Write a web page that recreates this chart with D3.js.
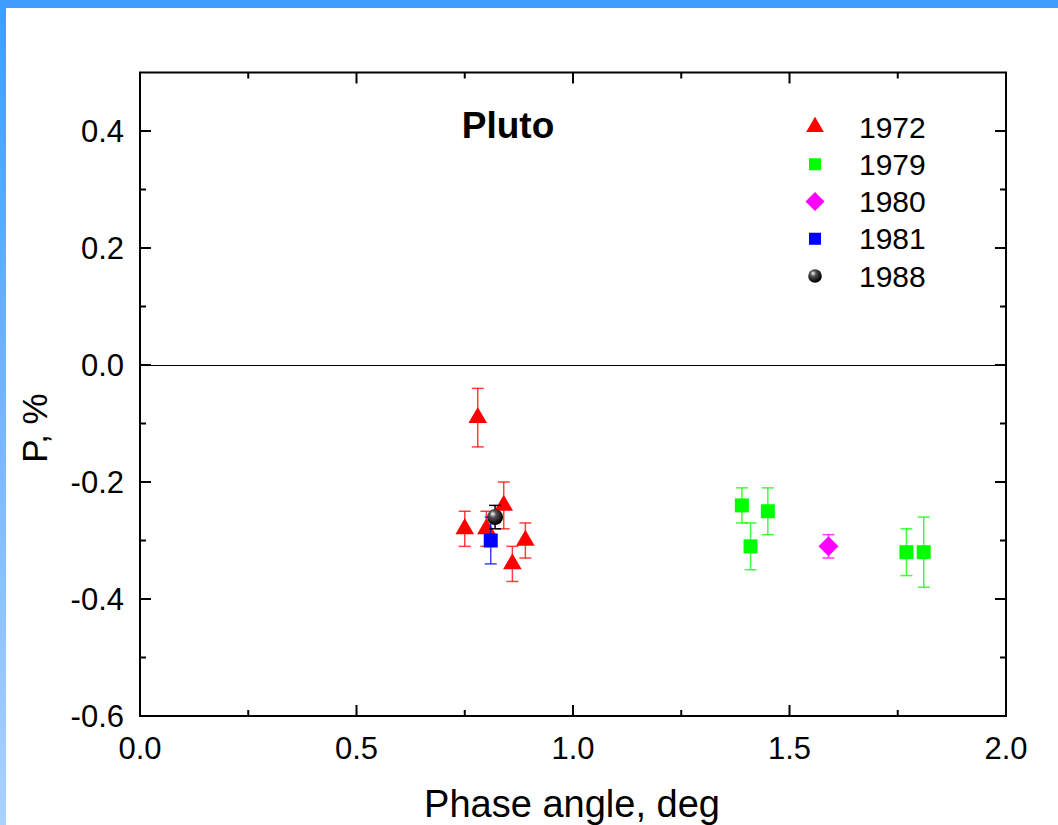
<!DOCTYPE html>
<html>
<head>
<meta charset="utf-8">
<script src="https://cdn.jsdelivr.net/npm/d3@7"></script>
<style>
  html, body { margin: 0; padding: 0; background: #fff; }
  svg { display: block; }
  text { font-family: "Liberation Sans", Arial, sans-serif; fill: #000; }
</style>
</head>
<body>
<svg id="chart" width="1058" height="825"></svg>
<script>
// Pluto polarization vs phase angle, by observation year
const years = ["1972", "1979", "1980", "1981", "1988"];

const x1972 = [0.78, 0.75, 0.80, 0.84, 0.89, 0.86];
const p1972 = [-0.09, -0.28, -0.28, -0.24, -0.30, -0.34];
const e1972 = [0.05, 0.03, 0.03, 0.04, 0.03, 0.03];

const x1979 = [1.39, 1.41, 1.45, 1.77, 1.81];
const p1979 = [-0.24, -0.31, -0.25, -0.32, -0.32];
const e1979 = [0.03, 0.04, 0.04, 0.04, 0.06];

const x1980 = [1.59];
const p1980 = [-0.31];
const e1980 = [0.02];

const x1981 = [0.81];
const p1981 = [-0.30];
const e1981 = [0.04];

const x1988 = [0.82];
const p1988 = [-0.26];
const e1988 = [0.02];

const xTicks = [0.0, 0.5, 1.0, 1.5, 2.0];
const yTicks = [-0.6, -0.4, -0.2, 0.0, 0.2, 0.4];

const series = [
  { name: years[0], xs: x1972, ps: p1972, es: e1972, color: "#ff0000", shape: "triangle" },
  { name: years[1], xs: x1979, ps: p1979, es: e1979, color: "#00ff00", shape: "square" },
  { name: years[2], xs: x1980, ps: p1980, es: e1980, color: "#ff00ff", shape: "diamond" },
  { name: years[3], xs: x1981, ps: p1981, es: e1981, color: "#0000ff", shape: "square" },
  { name: years[4], xs: x1988, ps: p1988, es: e1988, color: "#000000", shape: "sphere" }
];

const svg = d3.select("#chart");

// Frame decoration: blue bar along the top and a graded bar on the left
const defs = svg.append("defs");
const lg = defs.append("linearGradient").attr("id", "sideGrad")
  .attr("x1", 0).attr("y1", 0).attr("x2", 0).attr("y2", 1);
lg.append("stop").attr("offset", "0%").attr("stop-color", "#409cff");
lg.append("stop").attr("offset", "100%").attr("stop-color", "#aad1ff");
const rg = defs.append("radialGradient").attr("id", "sphereGrad")
  .attr("cx", "40%").attr("cy", "35%").attr("r", "60%").attr("fx", "35%").attr("fy", "30%");
rg.append("stop").attr("offset", "0%").attr("stop-color", "#ffffff");
rg.append("stop").attr("offset", "35%").attr("stop-color", "#555555");
rg.append("stop").attr("offset", "100%").attr("stop-color", "#000000");

svg.append("rect").attr("x", 0).attr("y", 0).attr("width", 6).attr("height", 825).attr("fill", "url(#sideGrad)");
svg.append("rect").attr("x", 0).attr("y", 0).attr("width", 1058).attr("height", 8).attr("fill", "#409cff");

const L = 140, R = 1006, T = 72.5, B = 716;
const x = d3.scaleLinear().domain([0, 2]).range([L, R]);
const y = d3.scaleLinear().domain([-0.6, 0.5]).range([B, T]);

const g = svg.append("g");

// Reference line at P = 0
const y0line = Math.round(y(0)) + 0.5;
g.append("line").attr("x1", L).attr("x2", R).attr("y1", y0line).attr("y2", y0line)
  .attr("stroke", "#000").attr("stroke-width", 1);

// Inward ticks on all four sides
const majorLen = 11, minorLen = 6;
const xMinor = d3.range(0.25, 2, 0.5);
const yMinor = d3.range(-0.5, 0.5, 0.2).map(v => +v.toFixed(2));
const tickG = g.append("g").attr("stroke", "#000").attr("stroke-width", 2);
xTicks.forEach(v => {
  tickG.append("line").attr("x1", x(v)).attr("x2", x(v)).attr("y1", B).attr("y2", B - majorLen);
  tickG.append("line").attr("x1", x(v)).attr("x2", x(v)).attr("y1", T).attr("y2", T + majorLen);
});
xMinor.forEach(v => {
  tickG.append("line").attr("x1", x(v)).attr("x2", x(v)).attr("y1", B).attr("y2", B - minorLen);
  tickG.append("line").attr("x1", x(v)).attr("x2", x(v)).attr("y1", T).attr("y2", T + minorLen);
});
yTicks.forEach(v => {
  tickG.append("line").attr("x1", L).attr("x2", L + majorLen).attr("y1", y(v)).attr("y2", y(v));
  tickG.append("line").attr("x1", R).attr("x2", R - majorLen).attr("y1", y(v)).attr("y2", y(v));
});
yMinor.forEach(v => {
  tickG.append("line").attr("x1", L).attr("x2", L + minorLen).attr("y1", y(v)).attr("y2", y(v));
  tickG.append("line").attr("x1", R).attr("x2", R - minorLen).attr("y1", y(v)).attr("y2", y(v));
});

// Plot frame
g.append("rect").attr("x", L).attr("y", T).attr("width", R - L).attr("height", B - T)
  .attr("fill", "none").attr("stroke", "#000").attr("stroke-width", 2);

// Tick labels
const fmt = d3.format(".1f");
g.selectAll(".xl").data(xTicks).enter().append("text")
  .attr("x", d => x(d)).attr("y", 759).attr("text-anchor", "middle")
  .attr("font-size", 31).text(d => fmt(d));
g.selectAll(".yl").data(yTicks).enter().append("text")
  .attr("x", 124).attr("y", d => y(d) + 11).attr("text-anchor", "end")
  .attr("font-size", 31).text(d => fmt(d).replace("−", "-"));

// Axis titles
svg.append("text").attr("x", 572).attr("y", 817).attr("text-anchor", "middle")
  .attr("font-size", 38).text("Phase angle, deg");
svg.append("text").attr("transform", "translate(47,428) rotate(-90)").attr("text-anchor", "middle")
  .attr("font-size", 35).text("P, %");

// Panel label
svg.append("text").attr("x", 508).attr("y", 138).attr("text-anchor", "middle")
  .attr("font-size", 37).attr("font-weight", "bold").text("Pluto");

// Marker drawing
function marker(sel, shape, color, scale) {
  const s = scale || 1;
  if (shape === "triangle") {
    sel.append("path").attr("d", d3.symbol().type(d3.symbolTriangle).size(150 * s * s)())
      .attr("fill", color);
  } else if (shape === "square") {
    sel.append("rect").attr("x", -7 * s).attr("y", -7 * s).attr("width", 14 * s).attr("height", 14 * s)
      .attr("fill", color);
  } else if (shape === "diamond") {
    const r = 10 * s;
    sel.append("path").attr("d", `M0,${-r}L${r},0L0,${r}L${-r},0Z`).attr("fill", color);
  } else if (shape === "sphere") {
    sel.append("circle").attr("r", 8 * s).attr("fill", "url(#sphereGrad)");
  }
}

// Error bars then markers
const capW = 6;
series.forEach(sr => {
  const pts = sr.xs.map((v, i) => ({ x: v, p: sr.ps[i], e: sr.es[i] }));
  const eg = g.append("g").attr("stroke", sr.color).attr("stroke-width", 1.5)
    .attr("stroke-opacity", sr.shape === "sphere" ? 1 : 0.75);
  pts.forEach(d => {
    const cx = x(d.x), y0 = y(d.p - d.e), y1 = y(d.p + d.e);
    eg.append("line").attr("x1", cx).attr("x2", cx).attr("y1", y0).attr("y2", y1);
    eg.append("line").attr("x1", cx - capW).attr("x2", cx + capW).attr("y1", y0).attr("y2", y0);
    eg.append("line").attr("x1", cx - capW).attr("x2", cx + capW).attr("y1", y1).attr("y2", y1);
  });
  pts.forEach(d => {
    const mg = g.append("g").attr("transform", `translate(${x(d.x)},${y(d.p)})`);
    marker(mg, sr.shape, sr.color, 1);
  });
});

// Legend
const legY = d3.scalePoint().domain(years).range([127, 276]);
series.forEach(sr => {
  const lgG = svg.append("g").attr("transform", `translate(815,${legY(sr.name)})`);
  const sc = sr.shape === "triangle" ? 0.95 : (sr.shape === "square" ? 0.86 : (sr.shape === "sphere" ? 0.85 : 0.95));
  marker(lgG, sr.shape, sr.color, sc);
  svg.append("text").attr("x", 859).attr("y", legY(sr.name) + 10.5).attr("font-size", 30).text(sr.name);
});
</script>
</body>
</html>
